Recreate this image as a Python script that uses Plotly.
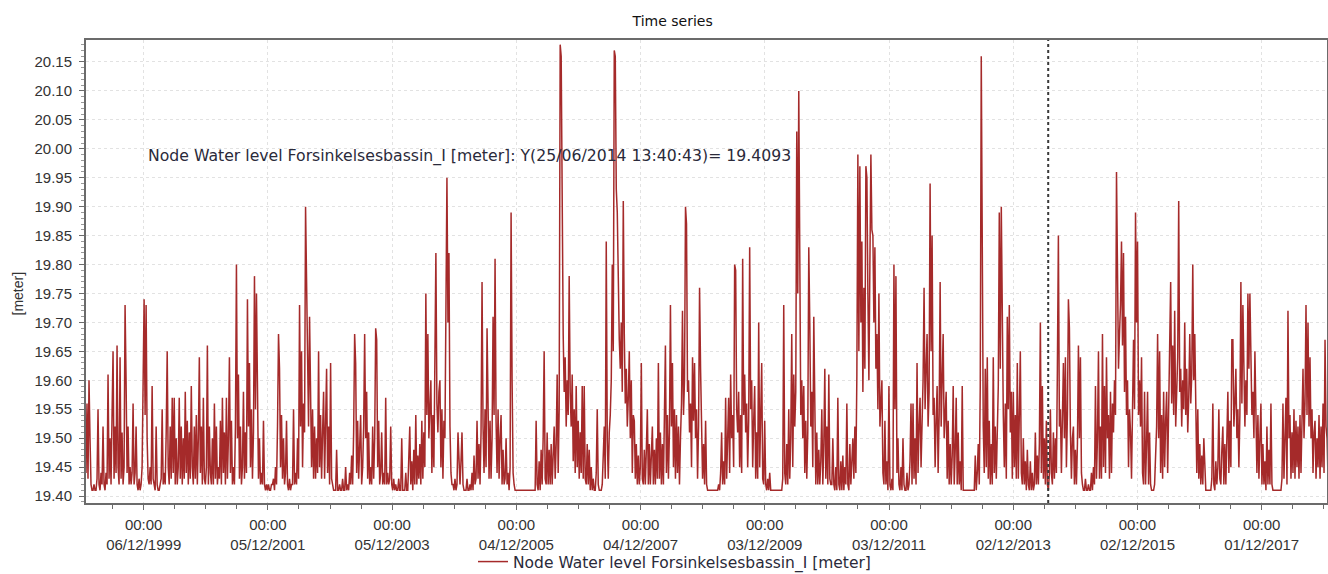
import numpy as np
import pandas as pd
import plotly.graph_objects as go

# Water level above the 19.40 m datum, in centimetres, ~6-day steps per year
DATUM_M = 19.40
lvl_1999 = [4,16,3,20,10,2,1,1,2,1, 1,3,15,2,1,4,2,12,2,1, 4,2,21,3,10,2,14,25,3,12, 4,26,5,2,24,3,11,2,5,33, 20,4,12,2,5,2,4,16,2,4, 12,2,1,3,1,2,5,27,34,14, 33,10]
lvl_2000 = [3,2,5,2,19,3,2,1,12,2, 1,1,2,3,15,2,4,2,11,25, 5,2,12,3,17,4,17,2,10,2, 5,17,3,12,2,10,3,18,4,13, 2,11,3,19,5,2,12,3,14,2, 10,24,4,12,2,17,3,2,5,26, 2,12]
lvl_2001 = [4,2,10,2,16,3,12,2,5,3, 13,2,17,4,11,2,17,3,10,24, 4,13,2,5,2,12,40,10,21,3, 12,2,5,18,3,11,4,34,12,23, 5,15,3,11,38,15,35,12,3,10, 2,4,2,13,2,1,2,1,2,1, 1,2]
lvl_2002 = [2,3,1,5,2,12,28,22,5,14, 3,10,2,4,13,2,1,3,1,2, 2,15,2,4,2,10,3,33,12,25, 5,16,11,50,38,17,12,31,14,5, 15,3,12,3,10,4,25,5,14,3, 11,18,3,10,22,4,12,2,23,3, 2,1]
lvl_2003 = [1,1,8,1,1,2,1,1,3,1, 1,5,1,2,1,4,2,7,2,11, 28,23,4,13,3,10,14,2,5,12, 28,10,18,3,11,2,5,2,12,3, 10,29,27,5,13,2,4,11,2,4, 2,17,2,4,2,3,12,2,1,3, 1,2]
lvl_2004 = [1,1,3,1,1,10,1,1,1,4, 1,1,5,12,2,6,1,8,2,14, 2,7,3,9,2,13,3,11,5,35, 14,28,10,16,20,4,14,5,34,42, 16,11,18,20,5,15,3,13,10,42, 55,30,42,12,4,2,2,1,3,1, 2,11]
lvl_2005 = [4,2,6,11,2,1,1,1,3,1, 1,2,1,4,1,7,2,3,13,3, 9,2,11,37,12,4,15,5,29,11, 3,13,3,10,31,14,41,13,4,15, 3,10,14,2,8,2,3,10,2,4, 1,5,49,20,4,2,1,1,1,1, 1,1]
lvl_2006 = [1,1,1,1,1,1,1,1,1,1, 1,1,1,1,1,13,2,1,6,1, 8,2,10,25,3,2,11,2,8,2, 9,2,7,12,3,9,21,4,15,78, 76,41,28,18,24,12,20,14,38,18, 12,21,6,15,4,19,5,13,3,11, 4,19]
lvl_2007 = [3,19,3,2,9,2,8,1,5,1, 3,1,1,4,15,2,1,1,1,2, 6,12,3,44,10,3,11,14,20,40, 25,77,76,53,49,34,27,22,30,18, 51,28,16,22,12,17,25,10,20,4, 14,13,3,9,2,7,2,5,23,3, 2,8]
lvl_2008 = [2,8,15,2,9,2,6,12,2,8, 2,10,3,23,3,11,2,9,2,12, 26,4,14,3,11,33,12,23,5,15, 3,14,4,12,2,10,16,32,14,20, 50,47,18,20,11,16,5,24,13,23, 10,15,3,12,36,22,10,3,9,2, 13,2]
lvl_2009 = [1,1,1,1,1,1,1,1,1,1, 1,2,1,4,11,2,6,2,17,3, 9,17,4,21,10,14,5,40,39,15, 11,18,5,14,4,41,14,21,11,16, 5,13,43,15,20,5,13,19,3,11, 3,30,5,14,23,3,2,13,2,1, 3,1]
lvl_2010 = [4,1,1,1,1,1,1,1,1,1, 1,1,1,3,33,4,2,9,2,15, 3,10,28,5,21,12,18,63,35,70, 27,14,20,10,19,4,13,3,11,43, 30,12,18,5,31,10,2,11,2,8, 2,6,15,2,9,22,3,12,2,21, 3,2]
lvl_2011 = [2,10,2,1,5,1,17,2,1,6, 1,7,1,5,2,16,2,1,9,2, 7,10,3,12,4,21,59,25,57,30, 44,18,36,22,57,55,35,20,40,59, 46,45,30,43,22,28,15,35,12,18, 20,4,2,13,2,6,1,19,2,1, 3,1]
lvl_2012 = [40,15,38,4,10,2,1,5,1,10, 2,1,1,4,1,2,6,16,2,16, 3,10,2,23,4,12,17,5,14,20, 36,15,22,28,12,18,54,25,45,14, 17,5,13,19,4,14,37,12,20,28, 10,14,18,3,13,2,9,2,7,19, 2,8]
lvl_2013 = [17,2,11,2,6,1,19,1,1,1, 1,1,1,1,1,1,1,1,1,7, 1,4,9,2,19,76,41,12,4,22, 5,24,3,13,2,9,2,24,4,12, 3,10,19,49,22,50,26,14,5,16, 3,31,15,33,11,18,3,18,5,14, 3,23]
lvl_2014 = [3,12,25,4,2,10,2,6,1,8, 2,1,6,1,4,1,2,11,2,7, 2,9,30,4,19,3,10,2,13,2, 1,4,15,4,2,11,3,10,4,22, 45,12,15,4,13,23,10,24,5,14, 34,29,11,3,10,12,2,8,2,9, 26,10]
lvl_2015 = [24,4,2,1,1,3,1,1,2,1, 1,4,1,5,2,19,3,10,25,3, 12,3,28,5,19,4,24,10,14,3, 18,4,16,11,20,14,56,34,22,28, 33,44,26,42,18,31,14,20,5,15, 11,3,12,27,15,49,30,44,14,20, 12,24]
lvl_2016 = [4,2,18,2,9,18,2,11,2,1, 1,1,2,6,12,28,10,25,4,14, 3,18,5,13,18,4,15,20,37,16, 26,14,32,12,19,24,51,18,22,12, 20,15,30,14,22,11,17,28,16,21, 40,20,28,12,4,15,3,9,2,7, 2,10]
lvl_2017 = [4,1,1,1,1,1,1,3,16,2, 1,6,2,5,15,3,2,8,12,2, 9,2,10,18,4,13,5,27,27,12, 16,22,10,15,5,14,37,16,33,18, 12,20,14,35,22,35,23,14,18,10, 25,12,4,14,3,10,16,2,9,2, 6,1]
lvl_2018 = [12,2,8,2,16,2,1,1,1,1, 1,1,1,1,1,3,16,3,9,17, 2,32,10,14,3,11,4,15,3,13, 5,12,3,14,4,11,22,10,16,33, 14,30,12,24,10,15,4,11,13,3, 10,5,14,3,12,5,16,4,27,12, 10,3]

years = list(range(1999, 2019))
yearly = [lvl_1999, lvl_2000, lvl_2001, lvl_2002, lvl_2003, lvl_2004, lvl_2005,
          lvl_2006, lvl_2007, lvl_2008, lvl_2009, lvl_2010, lvl_2011, lvl_2012,
          lvl_2013, lvl_2014, lvl_2015, lvl_2016, lvl_2017, lvl_2018]

tick_dates = ["1999-12-06", "2001-12-05", "2003-12-05", "2005-12-04", "2007-12-04",
              "2009-12-03", "2011-12-03", "2013-12-02", "2015-12-02", "2017-12-01"]
tick_text = ["00:00<br>06/12/1999", "00:00<br>05/12/2001", "00:00<br>05/12/2003",
             "00:00<br>04/12/2005", "00:00<br>04/12/2007", "00:00<br>03/12/2009",
             "00:00<br>03/12/2011", "00:00<br>02/12/2013", "00:00<br>02/12/2015",
             "00:00<br>01/12/2017"]
y_ticks = [19.40, 19.45, 19.50, 19.55, 19.60, 19.65, 19.70, 19.75, 19.80, 19.85,
           19.90, 19.95, 20.00, 20.05, 20.10, 20.15]
cursor_time = "2014-06-25 13:40:43"
cursor_value = 19.4093
series_name = "Node Water level Forsinkelsesbassin_I [meter]"

xs, ys = [], []
for yr, arr in zip(years, yearly):
    start = pd.Timestamp(f"{yr}-01-01").value
    end = pd.Timestamp(f"{yr + 1}-01-01").value
    stamps = np.linspace(start, end, len(arr), endpoint=False)
    xs.extend(pd.to_datetime(stamps))
    ys.extend(DATUM_M + np.array(arr, dtype=float) / 100.0)

LINE = "#a52a2a"
AXIS = "#6b6b6b"
FONT = "Liberation Sans"
TXT = "DejaVu Sans"

fig = go.Figure()
fig.add_trace(go.Scatter(x=xs, y=ys, mode="lines", name=series_name,
                         line=dict(color=LINE, width=1.5)))

fig.add_shape(type="line", xref="x", yref="paper", x0=cursor_time, x1=cursor_time,
              y0=0, y1=1, line=dict(color="#3a3a3a", width=2, dash="dot"))

fig.add_annotation(xref="paper", yref="paper", x=(146 - 86) / 1241, y=0.7495,
                   xanchor="left", yanchor="middle", showarrow=False,
                   text=f"{series_name}: Y(25/06/2014 13:40:43)= {cursor_value:.4f}",
                   font=dict(family=TXT, size=15.7, color="#2a2a3a"))
fig.add_annotation(xref="paper", yref="paper", x=(17.5 - 86) / 1241, y=(503 - 294) / 463,
                   xanchor="center", yanchor="middle", textangle=-90,
                   showarrow=False, text="[meter]",
                   font=dict(family=FONT, size=14, color="#333333"))

fig.update_layout(
    width=1328, height=574,
    margin=dict(l=86, r=1, t=40, b=71, autoexpand=False),
    paper_bgcolor="white", plot_bgcolor="white",
    title=dict(text="Time series", x=672.7 / 1328, xref="container", xanchor="center",
               y=1 - 20.7 / 574, yref="container", yanchor="middle",
               font=dict(family=TXT, size=14, color="#111111")),
    showlegend=True,
    legend=dict(orientation="h", xref="container", yref="container",
                x=473 / 1328, y=1 - 562 / 574, xanchor="left", yanchor="middle",
                itemwidth=30, font=dict(family=TXT, size=15.5, color="#2a2a3a"),
                bgcolor="rgba(0,0,0,0)"),
    xaxis=dict(range=["1999-01-01", "2018-12-20"], tickmode="array",
               tickvals=tick_dates, ticktext=tick_text, automargin=False,
               ticks="outside", ticklen=5, tickcolor=AXIS,
               showline=True, linecolor=AXIS, linewidth=2, mirror=True,
               showgrid=True, gridcolor="#e2e2e2", griddash="dot", gridwidth=1,
               zeroline=False, ticklabelstandoff=2,
               tickfont=dict(family=FONT, size=15, color="#333333"),
               minor=dict(dtick=182.5 * 86400000, tick0="1999-12-06", ticks="outside",
                          ticklen=4, tickcolor=AXIS, showgrid=False)),
    yaxis=dict(range=[19.388, 20.188], tickmode="array", tickvals=y_ticks,
               tickformat=".2f", ticks="outside", ticklen=5, tickcolor=AXIS,
               automargin=False,
               showline=True, linecolor=AXIS, linewidth=2, mirror=True,
               showgrid=True, gridcolor="#e2e2e2", griddash="dot", gridwidth=1,
               zeroline=False, ticklabelstandoff=4,
               tickfont=dict(family=FONT, size=15, color="#333333"),
               minor=dict(dtick=0.01, tick0=19.40, ticks="outside", ticklen=3,
                          tickcolor="#9a9a9a", showgrid=False)),
)

fig.write_html("out.html", config={"displayModeBar": False},
               post_script="document.body.style.margin='0';document.body.style.padding='0';")
